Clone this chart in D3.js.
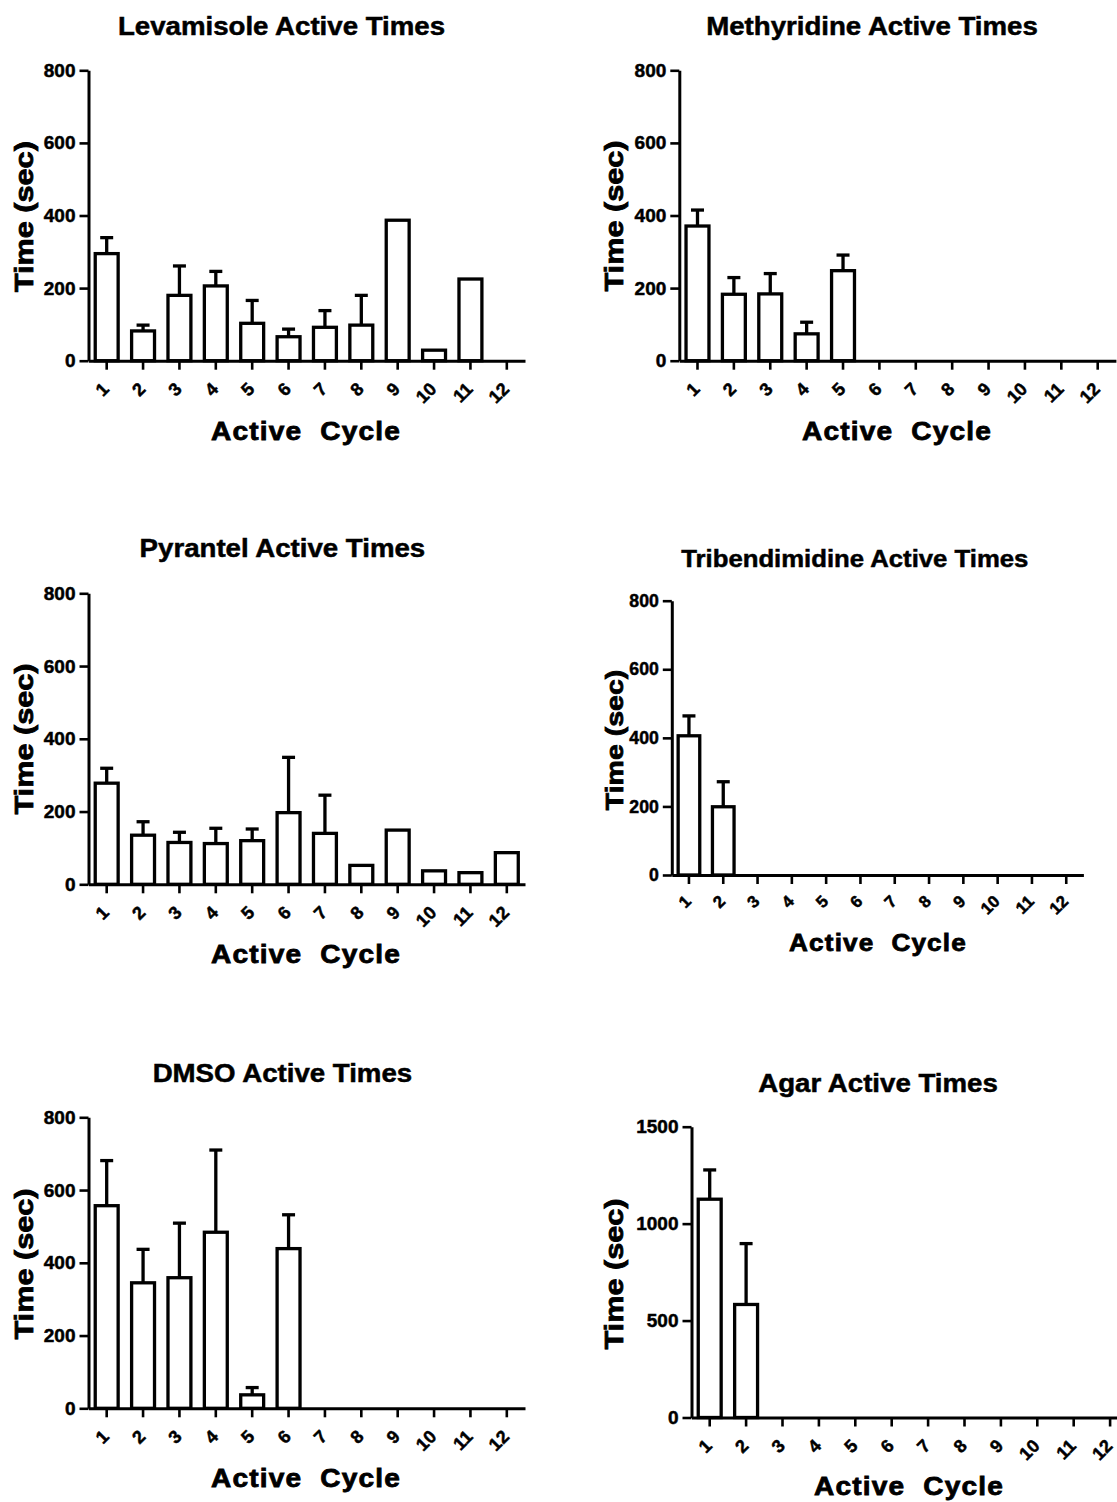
<!DOCTYPE html>
<html>
<head>
<meta charset="utf-8">
<script src="https://cdn.jsdelivr.net/npm/d3@7"></script>
<style>
  html, body { margin: 0; padding: 0; background: #fff; }
  svg { display: block; }
  text { font-family: "Liberation Sans", Arial, Helvetica, sans-serif; font-weight: bold; fill: #000; stroke: #000; stroke-width: 0.5px; }
</style>
</head>
<body>
<svg id="chart" width="1117" height="1502"></svg>
<script>
// ---------------- DATA ----------------
const cycles = ["1","2","3","4","5","6","7","8","9","10","11","12"];

const levamisoleMean = [295, 82, 180, 206, 103, 66, 92, 98, 387, 29, 225, 0];
const levamisoleSem  = [44, 16, 81, 40, 63, 21, 46, 82, 0, 0, 0, 0];

const methyridineMean = [371, 183, 184, 74, 248, 0, 0, 0, 0, 0, 0, 0];
const methyridineSem  = [44, 46, 56, 32, 43, 0, 0, 0, 0, 0, 0, 0];

const pyrantelMean = [278, 135, 115, 112, 120, 197, 140, 52, 149, 37, 32, 87];
const pyrantelSem  = [41, 37, 28, 42, 32, 152, 105, 0, 0, 0, 0, 0];

const tribendimidineMean = [406, 199, 0, 0, 0, 0, 0, 0, 0, 0, 0, 0];
const tribendimidineSem  = [58, 73, 0, 0, 0, 0, 0, 0, 0, 0, 0, 0];

const dmsoMean = [557, 345, 359, 484, 37, 439, 0, 0, 0, 0, 0, 0];
const dmsoSem  = [124, 92, 150, 226, 20, 93, 0, 0, 0, 0, 0, 0];

const agarMean = [1126, 583, 0, 0, 0, 0, 0, 0, 0, 0, 0, 0];
const agarSem  = [151, 314, 0, 0, 0, 0, 0, 0, 0, 0, 0, 0];

const titles = ["Levamisole Active Times", "Methyridine Active Times", "Pyrantel Active Times",
                "Tribendimidine Active Times", "DMSO Active Times", "Agar Active Times"];
const yTicks800  = [0, 200, 400, 600, 800];
const yTicks1500 = [0, 500, 1000, 1500];
const xAxisTitle = "Active  Cycle";
const yAxisTitle = "Time (sec)";

// ---------------- LAYOUT ----------------
const panels = [
  { title: titles[0], mean: levamisoleMean, sem: levamisoleSem, ymax: 800, ticks: yTicks800,
    x0: 88.5, x1: 525, yTop: 70.3, yBot: 360.7, tx: 281.5, ty: 35, ytx: 33, yty: 216.7, xtx: 306, xty: 440, fs: 1 },
  { title: titles[1], mean: methyridineMean, sem: methyridineSem, ymax: 800, ticks: yTicks800,
    x0: 679.3, x1: 1115.9, yTop: 70.3, yBot: 360.7, tx: 872, ty: 35, ytx: 623, yty: 216, xtx: 897, xty: 440, fs: 1 },
  { title: titles[2], mean: pyrantelMean, sem: pyrantelSem, ymax: 800, ticks: yTicks800,
    x0: 88.5, x1: 525, yTop: 593.3, yBot: 884.3, tx: 282.4, ty: 557.3, ytx: 33, yty: 739, xtx: 306, xty: 963.3, fs: 1 },
  { title: titles[3], mean: tribendimidineMean, sem: tribendimidineSem, ymax: 800, ticks: yTicks800,
    x0: 671.8, x1: 1083.4, yTop: 600.7, yBot: 875, tx: 854.8, ty: 567.3, ytx: 623, yty: 740, xtx: 878, xty: 950.7, fs: 0.93 },
  { title: titles[4], mean: dmsoMean, sem: dmsoSem, ymax: 800, ticks: yTicks800,
    x0: 88.5, x1: 525, yTop: 1117.3, yBot: 1408.3, tx: 282.4, ty: 1082.3, ytx: 33, yty: 1264, xtx: 306, xty: 1487.3, fs: 1 },
  { title: titles[5], mean: agarMean, sem: agarSem, ymax: 1500, ticks: yTicks1500,
    x0: 691.5, x1: 1128.3, yTop: 1126.7, yBot: 1417.5, tx: 878, ty: 1092.3, ytx: 623, yty: 1274, xtx: 909, xty: 1495, fs: 1 }
];

const svg = d3.select("#chart");
svg.append("rect").attr("width", 1117).attr("height", 1502).attr("fill", "#fff");

panels.forEach(p => {
  const g = svg.append("g");
  const x = d3.scaleBand().domain(cycles).range([p.x0, p.x1]).paddingInner(0.37).paddingOuter(0.185);
  const y = d3.scaleLinear().domain([0, p.ymax]).range([p.yBot, p.yTop]);
  const rows = cycles.map((c, i) => ({ c, m: p.mean[i], s: p.sem[i] }));

  // bars
  g.selectAll("rect.bar").data(rows.filter(d => d.m > 0)).join("rect")
    .attr("class", "bar")
    .attr("x", d => x(d.c))
    .attr("width", x.bandwidth())
    .attr("y", d => y(d.m))
    .attr("height", d => y(0) - y(d.m))
    .attr("fill", "#fff").attr("stroke", "#000").attr("stroke-width", 3.3);

  // error bars
  const eb = rows.filter(d => d.m > 0 && d.s > 0);
  g.selectAll("line.err").data(eb).join("line")
    .attr("x1", d => x(d.c) + x.bandwidth() / 2).attr("x2", d => x(d.c) + x.bandwidth() / 2)
    .attr("y1", d => y(d.m)).attr("y2", d => y(d.m + d.s))
    .attr("stroke", "#000").attr("stroke-width", 3.3);
  g.selectAll("line.cap").data(eb).join("line")
    .attr("x1", d => x(d.c) + x.bandwidth() / 2 - 6.5).attr("x2", d => x(d.c) + x.bandwidth() / 2 + 6.5)
    .attr("y1", d => y(d.m + d.s)).attr("y2", d => y(d.m + d.s))
    .attr("stroke", "#000").attr("stroke-width", 3.3);

  // y axis
  const ya = g.append("g").attr("transform", `translate(${p.x0},0)`)
    .call(d3.axisLeft(y).tickValues(p.ticks).tickFormat(d3.format("d")).tickSize(9).tickSizeOuter(0).tickPadding(4));
  ya.select(".domain").attr("stroke-width", 3).attr("stroke", "#000");
  ya.selectAll(".tick line").attr("stroke-width", 2.6).attr("stroke", "#000");
  ya.selectAll(".tick text").attr("font-size", 19 * p.fs).attr("fill", "#000");

  // x axis
  const xa = g.append("g").attr("transform", `translate(0,${p.yBot})`)
    .call(d3.axisBottom(x).tickSize(9).tickSizeOuter(0));
  xa.select(".domain").attr("stroke-width", 3).attr("stroke", "#000");
  xa.selectAll(".tick line").attr("stroke-width", 2.6).attr("stroke", "#000");
  xa.selectAll(".tick text")
    .attr("x", 0).attr("y", 0).attr("dy", "0.35em")
    .attr("text-anchor", "end")
    .attr("transform", `translate(-1,${25 * p.fs}) rotate(-45)`)
    .attr("font-size", 18 * p.fs).attr("fill", "#000");

  // title
  g.append("text")
    .attr("transform", `translate(${p.tx},${p.ty}) scale(1.08,1)`)
    .attr("text-anchor", "middle")
    .attr("font-size", 25.6 * p.fs)
    .text(p.title);

  // y axis title
  g.append("text")
    .attr("transform", `translate(${p.ytx},${p.yty}) rotate(-90) scale(1.18,1)`)
    .attr("text-anchor", "middle")
    .attr("font-size", 26 * p.fs)
    .style("stroke-width", "0.8px")
    .text(yAxisTitle);

  // x axis title
  g.append("text")
    .attr("transform", `translate(${p.xtx},${p.xty}) scale(1.08,1)`)
    .attr("text-anchor", "middle")
    .attr("font-size", 26 * p.fs)
    .attr("letter-spacing", 1.1)
    .style("white-space", "pre")
    .style("stroke-width", "0.8px")
    .text(xAxisTitle);
});
</script>
</body>
</html>
